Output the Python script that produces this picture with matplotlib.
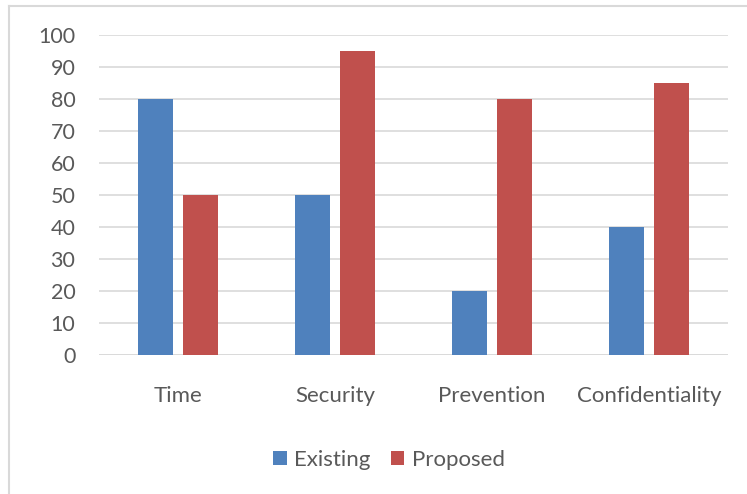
import numpy as np
import matplotlib.pyplot as plt
from matplotlib.lines import Line2D

categories = ["Time", "Security", "Prevention", "Confidentiality"]
existing = [80, 50, 20, 40]
proposed = [50, 95, 80, 85]

plt.rcParams["font.family"] = ["Lato", "DejaVu Sans"]
text_color = "#595959"
blue = "#4F81BD"
red = "#C0504D"

W, H = 747, 494
fig = plt.figure(figsize=(W / 100, H / 100), dpi=100)
ax = fig.add_axes([99 / W, 1 - 355 / H, (728 - 99) / W, (355 - 35) / H])

x = np.arange(len(categories))
width = 0.223
offset = 0.143
ax.bar(x - offset, existing, width, color=blue, label="Existing", zorder=3)
ax.bar(x + offset, proposed, width, color=red, label="Proposed", zorder=3)

ax.set_xlim(-0.5, len(categories) - 0.5)
ax.set_ylim(0, 100)
ax.set_yticks(range(0, 101, 10))
ax.yaxis.grid(True, color="#D9D9D9", linewidth=1.2, zorder=0)
for s in ax.spines.values():
    s.set_visible(False)
ax.axhline(0, color="#D9D9D9", linewidth=1.2, zorder=1)
ax.tick_params(axis="both", length=0, colors=text_color)
ax.tick_params(axis="y", pad=17, labelsize=15.5)
ax.tick_params(axis="x", pad=22, labelsize=16)
ax.set_xticks(x)
ax.set_xticklabels(categories)

# outer chart border (left and top visible)
fig.add_artist(Line2D([9 / W, 9 / W], [0, 1 - 6 / H], transform=fig.transFigure,
                      color="#D9D9D9", linewidth=1.5))
fig.add_artist(Line2D([9 / W, 1], [1 - 6 / H, 1 - 6 / H], transform=fig.transFigure,
                      color="#D9D9D9", linewidth=1.5))

fig.legend(loc="center", bbox_to_anchor=(389 / W, 1 - 460 / H), ncol=2, frameon=False,
           fontsize=16, labelcolor=text_color, handlelength=0.6, handleheight=0.6,
           handletextpad=0.35, columnspacing=0.9)

fig.savefig("out.png", dpi=100)
